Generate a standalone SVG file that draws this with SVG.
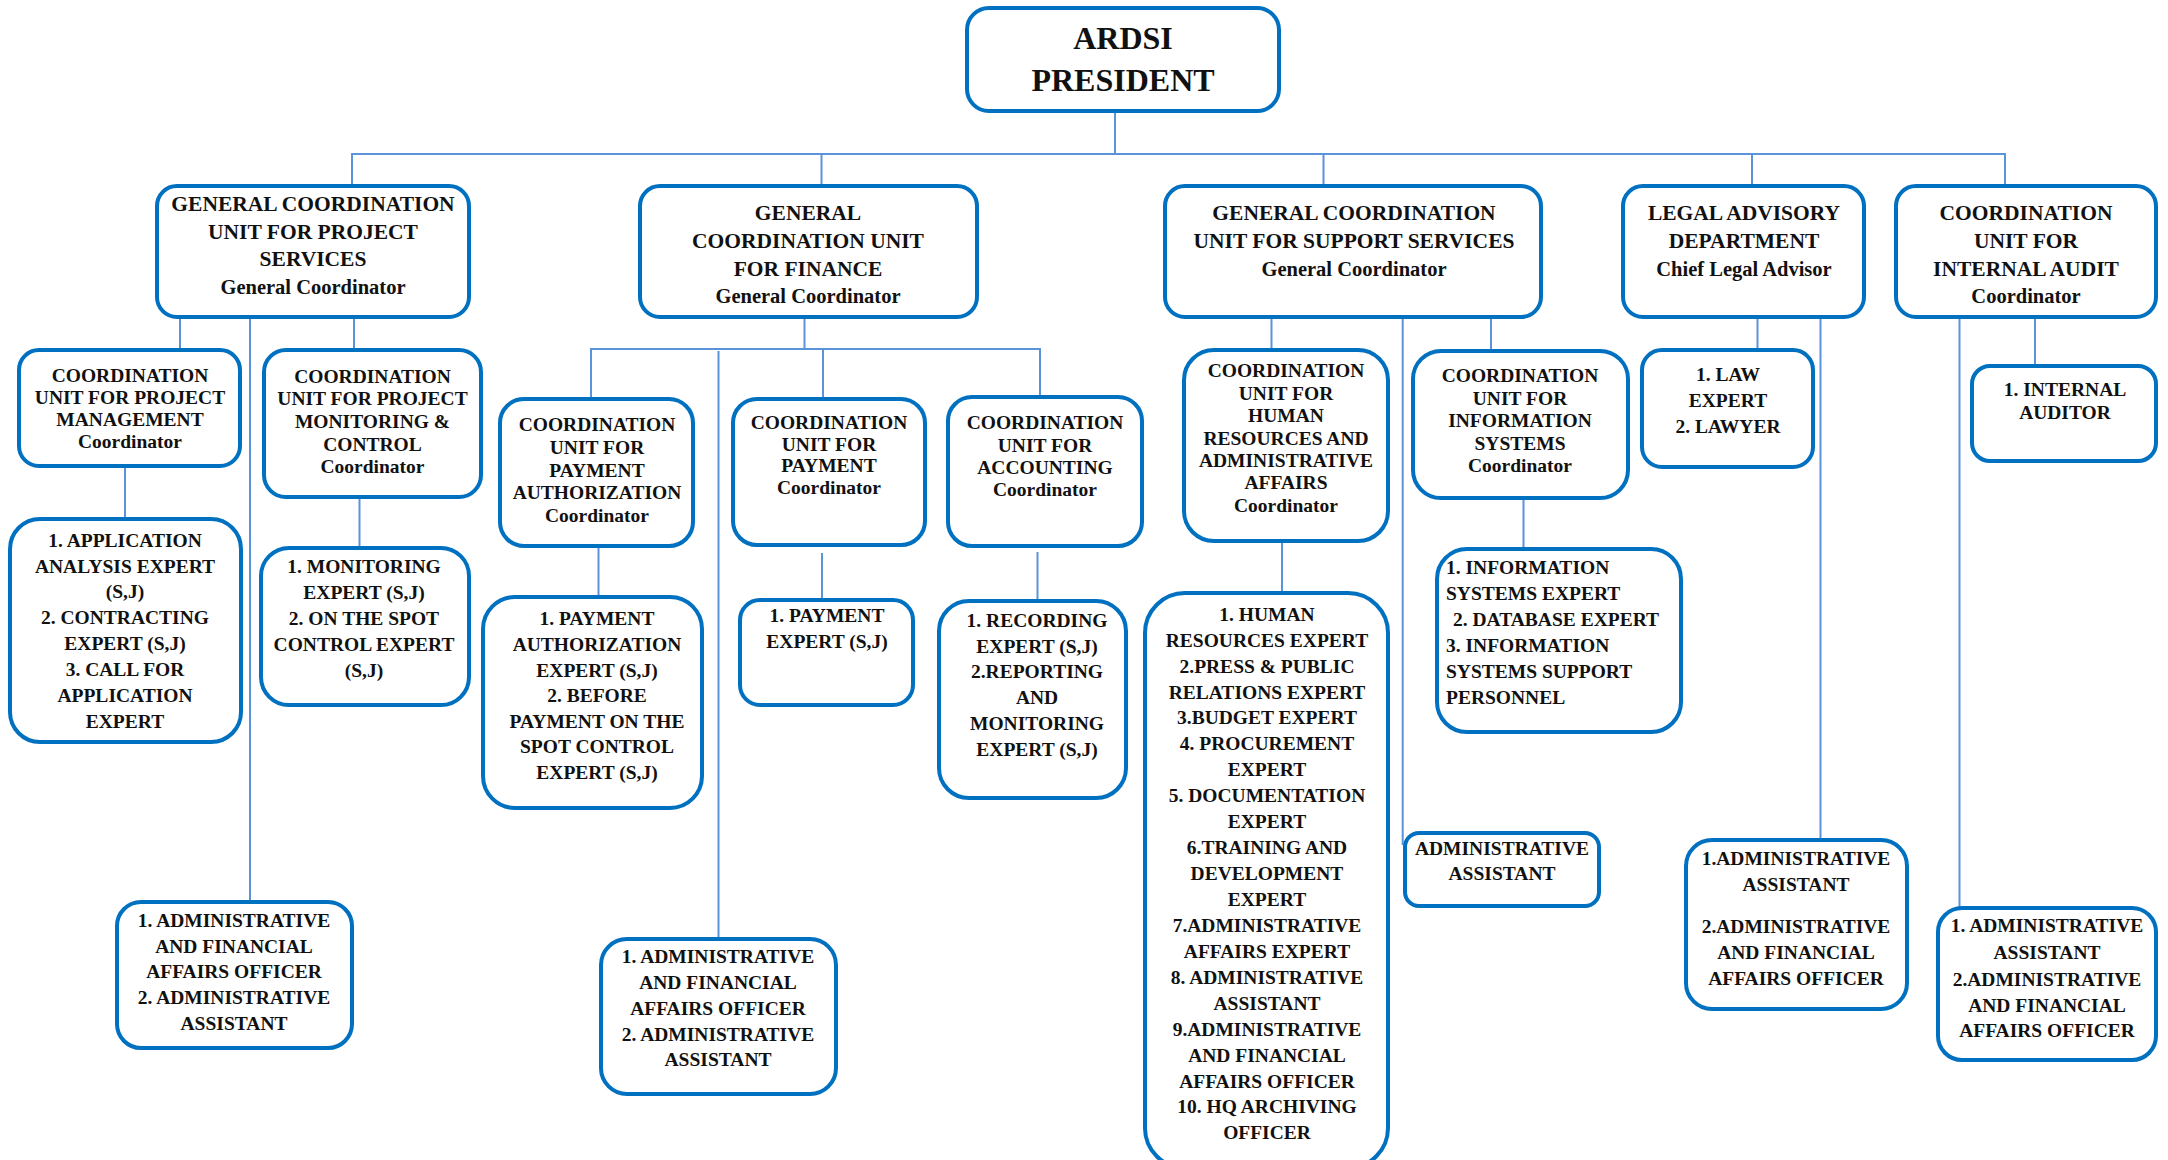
<svg xmlns="http://www.w3.org/2000/svg" width="2168" height="1160" viewBox="0 0 2168 1160">
<style>
.box{fill:#fff;stroke:#0070C0;stroke-width:4}
.conn line{stroke:#5B93DB;stroke-width:2}
text{font-family:"Liberation Serif","Times New Roman",serif;font-weight:bold;fill:#111;text-anchor:middle}
.t0{font-size:32px}
.t1{font-size:21.5px}
.r1{font-size:20.5px}
.t2{font-size:19.5px}
.lft{text-anchor:start}
</style>
<rect width="2168" height="1160" fill="#fff"/>
<g class="conn">
<line x1="1115" y1="113" x2="1115" y2="154"/>
<line x1="351" y1="154" x2="2006" y2="154"/>
<line x1="352" y1="154" x2="352" y2="185"/>
<line x1="821.5" y1="154" x2="821.5" y2="185"/>
<line x1="1323.5" y1="154" x2="1323.5" y2="185"/>
<line x1="1752" y1="154" x2="1752" y2="185"/>
<line x1="2005" y1="154" x2="2005" y2="185"/>
<line x1="180" y1="318" x2="180" y2="349"/>
<line x1="250" y1="316" x2="250" y2="901"/>
<line x1="354" y1="318" x2="354" y2="349"/>
<line x1="125" y1="467" x2="125" y2="518"/>
<line x1="359.5" y1="498" x2="359.5" y2="547"/>
<line x1="804.5" y1="318" x2="804.5" y2="349"/>
<line x1="590" y1="349" x2="1041" y2="349"/>
<line x1="591" y1="349" x2="591" y2="398"/>
<line x1="718.5" y1="351" x2="718.5" y2="938"/>
<line x1="823" y1="349" x2="823" y2="398"/>
<line x1="1040" y1="349" x2="1040" y2="396"/>
<line x1="598.5" y1="547" x2="598.5" y2="596"/>
<line x1="822" y1="553" x2="822" y2="599"/>
<line x1="1037.5" y1="552" x2="1037.5" y2="600"/>
<line x1="1271.5" y1="318" x2="1271.5" y2="349"/>
<line x1="1402.7" y1="316" x2="1402.7" y2="845"/>
<line x1="1491" y1="318" x2="1491" y2="350"/>
<line x1="1282" y1="542" x2="1282" y2="592"/>
<line x1="1523.5" y1="499" x2="1523.5" y2="548"/>
<line x1="1757.5" y1="318" x2="1757.5" y2="349"/>
<line x1="1820.5" y1="315" x2="1820.5" y2="839"/>
<line x1="2035" y1="318" x2="2035" y2="365"/>
<line x1="1959.5" y1="318" x2="1959.5" y2="907"/>
</g>
<g id="president">
<rect class="box" x="967" y="8" width="312" height="103" rx="22"/>
<text class="t0" x="1123" y="49">ARDSI</text>
<text class="t0" x="1123" y="91">PRESIDENT</text>
</g>
<g id="gcu-project-services">
<rect class="box" x="157" y="186" width="312" height="131" rx="20"/>
<text class="t1" x="313" y="211">GENERAL COORDINATION</text>
<text class="t1" x="313" y="239">UNIT FOR PROJECT</text>
<text class="t1" x="313" y="266">SERVICES</text>
<text class="r1" x="313" y="294">General Coordinator</text>
</g>
<g id="gcu-finance">
<rect class="box" x="640" y="186" width="337" height="131" rx="20"/>
<text class="t1" x="808" y="220">GENERAL</text>
<text class="t1" x="808" y="248">COORDINATION UNIT</text>
<text class="t1" x="808" y="276">FOR FINANCE</text>
<text class="r1" x="808" y="303">General Coordinator</text>
</g>
<g id="gcu-support">
<rect class="box" x="1165" y="186" width="376" height="131" rx="20"/>
<text class="t1" x="1354" y="220">GENERAL COORDINATION</text>
<text class="t1" x="1354" y="248">UNIT FOR SUPPORT SERVICES</text>
<text class="r1" x="1354" y="276">General Coordinator</text>
</g>
<g id="legal">
<rect class="box" x="1623" y="186" width="241" height="131" rx="20"/>
<text class="t1" x="1744" y="220">LEGAL ADVISORY</text>
<text class="t1" x="1744" y="248">DEPARTMENT</text>
<text class="r1" x="1744" y="276">Chief Legal Advisor</text>
</g>
<g id="internal-audit">
<rect class="box" x="1896" y="186" width="260" height="131" rx="20"/>
<text class="t1" x="2026" y="220">COORDINATION</text>
<text class="t1" x="2026" y="248">UNIT FOR</text>
<text class="t1" x="2026" y="276">INTERNAL AUDIT</text>
<text class="r1" x="2026" y="303">Coordinator</text>
</g>
<g id="cu-project-management">
<rect class="box" x="19" y="350" width="221" height="116" rx="20"/>
<text class="t2" x="130" y="382">COORDINATION</text>
<text class="t2" x="130" y="404">UNIT FOR PROJECT</text>
<text class="t2" x="130" y="426">MANAGEMENT</text>
<text class="t2" x="130" y="448">Coordinator</text>
</g>
<g id="cu-project-monitoring">
<rect class="box" x="264" y="350" width="217" height="147" rx="22"/>
<text class="t2" x="372.5" y="383">COORDINATION</text>
<text class="t2" x="372.5" y="405">UNIT FOR PROJECT</text>
<text class="t2" x="372.5" y="428">MONITORING &amp;</text>
<text class="t2" x="372.5" y="451">CONTROL</text>
<text class="t2" x="372.5" y="473">Coordinator</text>
</g>
<g id="pm-experts">
<rect class="box" x="10" y="519" width="231" height="223" rx="30"/>
<text class="t2" x="125" y="547">1. APPLICATION</text>
<text class="t2" x="125" y="573">ANALYSIS EXPERT</text>
<text class="t2" x="125" y="598">(S,J)</text>
<text class="t2" x="125" y="624">2. CONTRACTING</text>
<text class="t2" x="125" y="650">EXPERT (S,J)</text>
<text class="t2" x="125" y="676">3. CALL FOR</text>
<text class="t2" x="125" y="702">APPLICATION</text>
<text class="t2" x="125" y="728">EXPERT</text>
</g>
<g id="monitoring-experts">
<rect class="box" x="261" y="548" width="208" height="157" rx="28"/>
<text class="t2" x="364" y="573">1. MONITORING</text>
<text class="t2" x="364" y="599">EXPERT (S,J)</text>
<text class="t2" x="364" y="625">2. ON THE SPOT</text>
<text class="t2" x="364" y="651">CONTROL EXPERT</text>
<text class="t2" x="364" y="677">(S,J)</text>
</g>
<g id="ps-admin">
<rect class="box" x="117" y="902" width="235" height="146" rx="24"/>
<text class="t2" x="234" y="927">1. ADMINISTRATIVE</text>
<text class="t2" x="234" y="953">AND FINANCIAL</text>
<text class="t2" x="234" y="978">AFFAIRS OFFICER</text>
<text class="t2" x="234" y="1004">2. ADMINISTRATIVE</text>
<text class="t2" x="234" y="1030">ASSISTANT</text>
</g>
<g id="cu-payment-authorization">
<rect class="box" x="500" y="399" width="193" height="147" rx="24"/>
<text class="t2" x="597" y="431">COORDINATION</text>
<text class="t2" x="597" y="454">UNIT FOR</text>
<text class="t2" x="597" y="477">PAYMENT</text>
<text class="t2" x="597" y="499">AUTHORIZATION</text>
<text class="t2" x="597" y="522">Coordinator</text>
</g>
<g id="pa-experts">
<rect class="box" x="483" y="597" width="219" height="211" rx="32"/>
<text class="t2" x="597" y="625">1. PAYMENT</text>
<text class="t2" x="597" y="651">AUTHORIZATION</text>
<text class="t2" x="597" y="677">EXPERT (S,J)</text>
<text class="t2" x="597" y="702">2. BEFORE</text>
<text class="t2" x="597" y="728">PAYMENT ON THE</text>
<text class="t2" x="597" y="753">SPOT CONTROL</text>
<text class="t2" x="597" y="779">EXPERT (S,J)</text>
</g>
<g id="cu-payment">
<rect class="box" x="733" y="399" width="192" height="146" rx="24"/>
<text class="t2" x="829" y="429">COORDINATION</text>
<text class="t2" x="829" y="451">UNIT FOR</text>
<text class="t2" x="829" y="472">PAYMENT</text>
<text class="t2" x="829" y="494">Coordinator</text>
</g>
<g id="payment-experts">
<rect class="box" x="740" y="600" width="173" height="105" rx="20"/>
<text class="t2" x="827" y="622">1. PAYMENT</text>
<text class="t2" x="827" y="648">EXPERT (S,J)</text>
</g>
<g id="cu-accounting">
<rect class="box" x="948" y="397" width="194" height="149" rx="24"/>
<text class="t2" x="1045" y="429">COORDINATION</text>
<text class="t2" x="1045" y="452">UNIT FOR</text>
<text class="t2" x="1045" y="474">ACCOUNTING</text>
<text class="t2" x="1045" y="496">Coordinator</text>
</g>
<g id="accounting-experts">
<rect class="box" x="939" y="601" width="187" height="197" rx="30"/>
<text class="t2" x="1037" y="627">1. RECORDING</text>
<text class="t2" x="1037" y="653">EXPERT (S,J)</text>
<text class="t2" x="1037" y="678">2.REPORTING</text>
<text class="t2" x="1037" y="704">AND</text>
<text class="t2" x="1037" y="730">MONITORING</text>
<text class="t2" x="1037" y="756">EXPERT (S,J)</text>
</g>
<g id="finance-admin">
<rect class="box" x="601" y="939" width="235" height="155" rx="26"/>
<text class="t2" x="718" y="963">1. ADMINISTRATIVE</text>
<text class="t2" x="718" y="989">AND FINANCIAL</text>
<text class="t2" x="718" y="1015">AFFAIRS OFFICER</text>
<text class="t2" x="718" y="1041">2. ADMINISTRATIVE</text>
<text class="t2" x="718" y="1066">ASSISTANT</text>
</g>
<g id="cu-hr">
<rect class="box" x="1184" y="350" width="204" height="191" rx="30"/>
<text class="t2" x="1286" y="377">COORDINATION</text>
<text class="t2" x="1286" y="400">UNIT FOR</text>
<text class="t2" x="1286" y="422">HUMAN</text>
<text class="t2" x="1286" y="445">RESOURCES AND</text>
<text class="t2" x="1286" y="467">ADMINISTRATIVE</text>
<text class="t2" x="1286" y="489">AFFAIRS</text>
<text class="t2" x="1286" y="512">Coordinator</text>
</g>
<g id="hr-experts">
<rect class="box" x="1145" y="593" width="243" height="575" rx="40"/>
<text class="t2" x="1267" y="621">1. HUMAN</text>
<text class="t2" x="1267" y="647">RESOURCES EXPERT</text>
<text class="t2" x="1267" y="673">2.PRESS &amp; PUBLIC</text>
<text class="t2" x="1267" y="699">RELATIONS EXPERT</text>
<text class="t2" x="1267" y="724">3.BUDGET EXPERT</text>
<text class="t2" x="1267" y="750">4. PROCUREMENT</text>
<text class="t2" x="1267" y="776">EXPERT</text>
<text class="t2" x="1267" y="802">5. DOCUMENTATION</text>
<text class="t2" x="1267" y="828">EXPERT</text>
<text class="t2" x="1267" y="854">6.TRAINING AND</text>
<text class="t2" x="1267" y="880">DEVELOPMENT</text>
<text class="t2" x="1267" y="906">EXPERT</text>
<text class="t2" x="1267" y="932">7.ADMINISTRATIVE</text>
<text class="t2" x="1267" y="958">AFFAIRS EXPERT</text>
<text class="t2" x="1267" y="984">8. ADMINISTRATIVE</text>
<text class="t2" x="1267" y="1010">ASSISTANT</text>
<text class="t2" x="1267" y="1036">9.ADMINISTRATIVE</text>
<text class="t2" x="1267" y="1062">AND FINANCIAL</text>
<text class="t2" x="1267" y="1088">AFFAIRS OFFICER</text>
<text class="t2" x="1267" y="1113">10. HQ ARCHIVING</text>
<text class="t2" x="1267" y="1139">OFFICER</text>
</g>
<g id="cu-information-systems">
<rect class="box" x="1413" y="351" width="215" height="147" rx="28"/>
<text class="t2" x="1520" y="382">COORDINATION</text>
<text class="t2" x="1520" y="405">UNIT FOR</text>
<text class="t2" x="1520" y="427">INFORMATION</text>
<text class="t2" x="1520" y="450">SYSTEMS</text>
<text class="t2" x="1520" y="472">Coordinator</text>
</g>
<g id="is-experts">
<rect class="box" x="1437" y="549" width="244" height="183" rx="30"/>
<text class="t2 lft" x="1446" y="574">1. INFORMATION</text>
<text class="t2 lft" x="1446" y="600">SYSTEMS EXPERT</text>
<text class="t2 lft" x="1453" y="626">2. DATABASE EXPERT</text>
<text class="t2 lft" x="1446" y="652">3. INFORMATION</text>
<text class="t2 lft" x="1446" y="678">SYSTEMS SUPPORT</text>
<text class="t2 lft" x="1446" y="704">PERSONNEL</text>
</g>
<g id="support-admin">
<rect class="box" x="1405" y="833" width="194" height="73" rx="14"/>
<text class="t2" x="1502" y="855">ADMINISTRATIVE</text>
<text class="t2" x="1502" y="880">ASSISTANT</text>
</g>
<g id="legal-experts">
<rect class="box" x="1642" y="350" width="171" height="117" rx="20"/>
<text class="t2" x="1728" y="381">1. LAW</text>
<text class="t2" x="1728" y="407">EXPERT</text>
<text class="t2" x="1728" y="433">2. LAWYER</text>
</g>
<g id="legal-admin">
<rect class="box" x="1686" y="840" width="221" height="169" rx="26"/>
<text class="t2" x="1796" y="865">1.ADMINISTRATIVE</text>
<text class="t2" x="1796" y="891">ASSISTANT</text>
<text class="t2" x="1796" y="933">2.ADMINISTRATIVE</text>
<text class="t2" x="1796" y="959">AND FINANCIAL</text>
<text class="t2" x="1796" y="985">AFFAIRS OFFICER</text>
</g>
<g id="internal-auditor">
<rect class="box" x="1972" y="366" width="184" height="95" rx="18"/>
<text class="t2" x="2065" y="396">1. INTERNAL</text>
<text class="t2" x="2065" y="419">AUDITOR</text>
</g>
<g id="audit-admin">
<rect class="box" x="1938" y="908" width="218" height="152" rx="24"/>
<text class="t2" x="2047" y="932">1. ADMINISTRATIVE</text>
<text class="t2" x="2047" y="959">ASSISTANT</text>
<text class="t2" x="2047" y="986">2.ADMINISTRATIVE</text>
<text class="t2" x="2047" y="1012">AND FINANCIAL</text>
<text class="t2" x="2047" y="1037">AFFAIRS OFFICER</text>
</g>
</svg>
